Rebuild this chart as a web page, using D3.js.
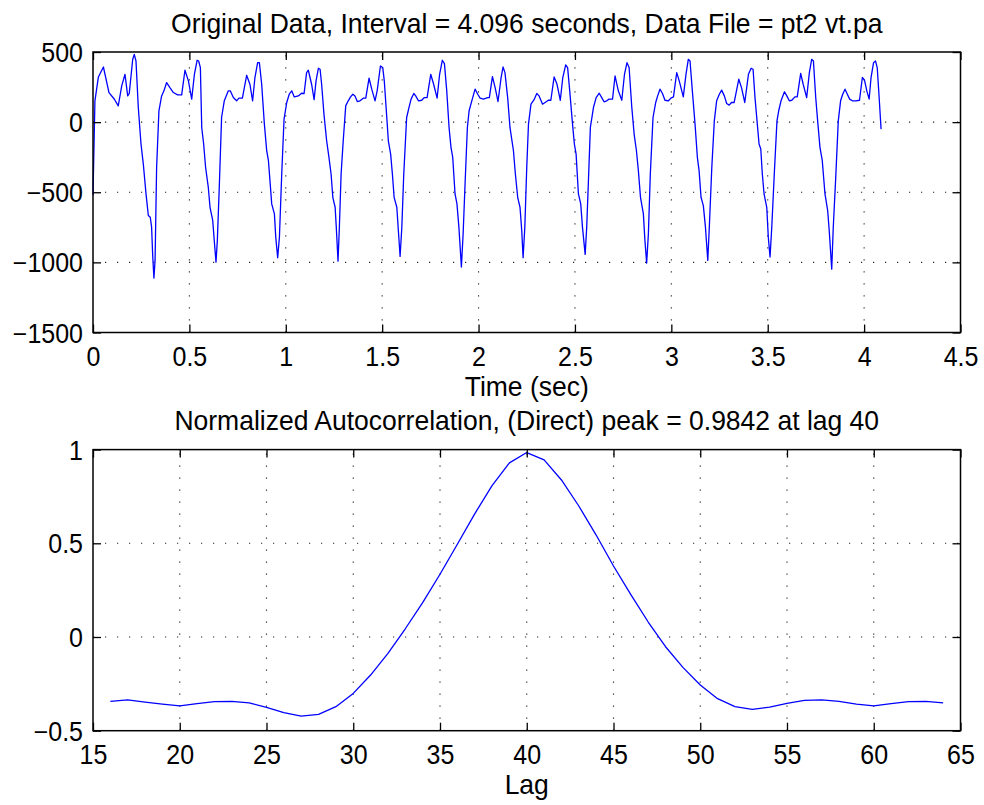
<!DOCTYPE html>
<html>
<head>
<meta charset="utf-8">
<script src="https://cdn.jsdelivr.net/npm/d3@7"></script>
<style>
  body { margin: 0; background: #fff; }
  svg text {
    font-family: "Liberation Sans", Arial, Helvetica, sans-serif; fill: #000;
    transform-box: fill-box; transform-origin: center; transform: scaleY(1.07);
  }
</style>
</head>
<body>
<svg id="chart" width="984" height="805"></svg>
<script>
// ---- data ----
// top panel: [time (s), amplitude]
const ecgPoints = [
  [0.000,-520],[0.010,152],[0.028,322],[0.054,393],[0.083,211],[0.111,163],[0.131,116],[0.149,258],
  [0.166,341],[0.180,187],[0.188,204],[0.206,448],[0.214,483],[0.223,436],[0.235,104],[0.249,-156],
  [0.261,-299],[0.275,-512],[0.287,-666],[0.297,-678],[0.304,-749],[0.310,-962],[0.316,-1112],[0.322,-986],
  [0.330,-322],[0.342,81],[0.356,187],[0.368,223],[0.382,282],[0.399,246],[0.417,211],[0.439,194],
  [0.460,194],[0.477,370],[0.495,294],[0.512,164],[0.526,341],[0.540,441],[0.548,436],[0.557,389],
  [0.564,-38],[0.574,-156],[0.584,-322],[0.598,-464],[0.607,-607],[0.621,-701],[0.629,-843],[0.638,-998],
  [0.645,-843],[0.655,-464],[0.667,33],[0.681,152],[0.702,223],[0.712,223],[0.728,175],[0.745,152],
  [0.757,171],[0.775,171],[0.797,334],[0.814,270],[0.828,152],[0.840,318],[0.854,424],[0.863,424],
  [0.875,270],[0.889,-14],[0.901,-204],[0.910,-275],[0.918,-417],[0.927,-583],[0.941,-654],[0.948,-820],
  [0.958,-967],[0.967,-820],[0.979,-370],[0.991,21],[1.005,140],[1.018,199],[1.031,223],[1.044,180],
  [1.065,187],[1.082,206],[1.095,204],[1.108,353],[1.117,370],[1.134,270],[1.147,160],[1.157,294],
  [1.169,384],[1.178,377],[1.186,270],[1.198,57],[1.212,-133],[1.224,-251],[1.235,-370],[1.244,-536],
  [1.256,-607],[1.262,-749],[1.271,-991],[1.278,-749],[1.287,-370],[1.298,-133],[1.311,116],[1.324,152],
  [1.336,180],[1.348,199],[1.359,187],[1.371,147],[1.385,152],[1.402,171],[1.415,171],[1.432,313],
  [1.446,235],[1.463,152],[1.474,223],[1.491,400],[1.503,389],[1.511,294],[1.524,33],[1.532,-133],
  [1.544,-228],[1.553,-370],[1.562,-536],[1.576,-607],[1.584,-773],[1.593,-957],[1.602,-749],[1.612,-370],
  [1.627,33],[1.639,104],[1.650,164],[1.664,204],[1.674,187],[1.688,152],[1.705,156],[1.719,175],
  [1.733,175],[1.752,341],[1.767,270],[1.785,171],[1.798,341],[1.812,441],[1.823,417],[1.835,223],
  [1.847,-38],[1.857,-180],[1.866,-251],[1.878,-512],[1.888,-583],[1.898,-749],[1.911,-1033],[1.920,-796],
  [1.930,-441],[1.942,-38],[1.951,81],[1.965,152],[1.982,235],[1.996,199],[2.008,171],[2.025,164],
  [2.048,175],[2.056,175],[2.072,325],[2.086,246],[2.101,147],[2.117,318],[2.127,393],[2.137,353],
  [2.151,175],[2.163,-38],[2.181,-204],[2.191,-370],[2.203,-536],[2.215,-607],[2.224,-773],[2.231,-967],
  [2.240,-749],[2.250,-322],[2.259,-14],[2.272,128],[2.288,160],[2.302,204],[2.314,187],[2.332,128],
  [2.345,140],[2.362,156],[2.375,156],[2.392,322],[2.407,270],[2.424,156],[2.437,318],[2.452,408],
  [2.462,389],[2.473,223],[2.486,9],[2.497,-156],[2.506,-228],[2.518,-512],[2.530,-583],[2.539,-749],
  [2.553,-943],[2.561,-749],[2.570,-417],[2.580,-38],[2.596,104],[2.610,175],[2.626,206],[2.639,175],
  [2.651,145],[2.665,152],[2.677,164],[2.695,164],[2.708,329],[2.725,223],[2.743,156],[2.757,341],
  [2.770,424],[2.781,389],[2.795,104],[2.807,-85],[2.819,-204],[2.829,-346],[2.840,-536],[2.855,-654],
  [2.863,-843],[2.872,-1005],[2.881,-796],[2.891,-370],[2.905,33],[2.919,140],[2.929,187],[2.941,235],
  [2.954,204],[2.967,156],[2.985,152],[2.998,171],[3.011,180],[3.028,353],[3.041,294],[3.062,180],
  [3.076,341],[3.088,448],[3.097,436],[3.109,223],[3.123,-14],[3.135,-251],[3.144,-346],[3.154,-536],
  [3.166,-595],[3.177,-749],[3.189,-986],[3.197,-749],[3.210,-322],[3.223,9],[3.235,152],[3.249,199],
  [3.261,228],[3.275,187],[3.287,133],[3.300,121],[3.312,140],[3.326,140],[3.350,306],[3.364,246],
  [3.381,140],[3.400,341],[3.414,384],[3.424,377],[3.434,175],[3.446,-14],[3.455,-156],[3.464,-192],
  [3.472,-370],[3.481,-512],[3.495,-607],[3.503,-820],[3.512,-962],[3.521,-749],[3.534,-370],[3.548,9],
  [3.557,81],[3.569,152],[3.587,216],[3.599,187],[3.612,152],[3.625,156],[3.641,180],[3.653,180],
  [3.671,348],[3.684,270],[3.702,175],[3.716,353],[3.728,448],[3.737,436],[3.749,175],[3.759,9],
  [3.771,-180],[3.783,-275],[3.797,-512],[3.811,-630],[3.819,-773],[3.832,-1048],[3.840,-749],[3.852,-417],
  [3.866,9],[3.878,152],[3.889,199],[3.901,235],[3.913,199],[3.925,164],[3.939,152],[3.957,152],
  [3.976,156],[3.991,318],[4.002,299],[4.014,223],[4.026,164],[4.036,318],[4.049,424],[4.059,436],
  [4.068,389],[4.078,175],[4.088,-50]
];

// bottom panel: autocorrelation per lag
const lags = [16,17,18,19,20,21,22,23,24,25,26,27,28,29,30,31,32,33,34,35,36,37,38,39,40,
              41,42,43,44,45,46,47,48,49,50,51,52,53,54,55,56,57,58,59,60,61,62,63,64];
const acf = [-0.343,-0.336,-0.347,-0.358,-0.367,-0.356,-0.345,-0.343,-0.352,-0.375,-0.404,-0.422,-0.413,
             -0.372,-0.301,-0.203,-0.087,0.044,0.183,0.335,0.495,0.657,0.808,0.929,0.9842,
             0.945,0.838,0.699,0.544,0.379,0.226,0.080,-0.052,-0.162,-0.256,-0.329,-0.372,-0.386,
             -0.374,-0.354,-0.338,-0.335,-0.343,-0.358,-0.367,-0.356,-0.345,-0.343,-0.352];

const timeTicks = [0, 0.5, 1, 1.5, 2, 2.5, 3, 3.5, 4, 4.5];
const ampTicks = [-1500, -1000, -500, 0, 500];
const lagTicks = [15, 20, 25, 30, 35, 40, 45, 50, 55, 60, 65];
const acfTicks = [-0.5, 0, 0.5, 1];

const topTitle = "Original Data, Interval = 4.096 seconds, Data File = pt2 vt.pa";
const bottomTitle = "Normalized Autocorrelation, (Direct) peak = 0.9842 at lag 40";

// ---- drawing ----
const svg = d3.select("#chart");
const tickFont = 25;
const labelFont = 26.5;   // titles / axis labels are a bit larger
const fmt = d => String(d).replace("-", "\u2212");

function drawPanel(p) {
  const x = d3.scaleLinear().domain(p.xDomain).range([p.left, p.right]);
  const y = d3.scaleLinear().domain(p.yDomain).range([p.bottom, p.top]);
  const g = svg.append("g");
  const w = p.right - p.left, h = p.bottom - p.top;

  // dotted grid
  g.append("g").selectAll("line")
    .data(p.xTicks.slice(1, -1))
    .join("line")
    .attr("x1", d => x(d)).attr("x2", d => x(d))
    .attr("y1", p.bottom).attr("y2", p.top)
    .attr("stroke", "#222").attr("stroke-width", 1.1)
    .attr("stroke-dasharray", "1.2 10.8");
  g.append("g").selectAll("line")
    .data(p.yTicks.slice(1, -1))
    .join("line")
    .attr("x1", p.left).attr("x2", p.right)
    .attr("y1", d => y(d)).attr("y2", d => y(d))
    .attr("stroke", "#222").attr("stroke-width", 1.1)
    .attr("stroke-dasharray", "1.2 10.8");

  // data line
  g.append("path")
    .datum(p.data)
    .attr("fill", "none")
    .attr("stroke", "#0000ff")
    .attr("stroke-width", 1.3)
    .attr("stroke-linejoin", "round")
    .attr("d", d3.line().x(d => x(d[0])).y(d => y(d[1])));

  // axes, ticks pointing inward on all four sides
  g.append("g").attr("transform", `translate(0,${p.bottom})`)
    .call(d3.axisBottom(x).tickValues(p.xTicks).tickFormat(fmt).tickSize(-8).tickSizeOuter(0).tickPadding(15));
  const leftAx = g.append("g").attr("transform", `translate(${p.left},0)`)
    .call(d3.axisLeft(y).tickValues(p.yTicks).tickFormat(fmt).tickSize(-8).tickSizeOuter(0).tickPadding(10));
  g.append("g").attr("transform", `translate(0,${p.top})`)
    .call(d3.axisTop(x).tickValues(p.xTicks).tickFormat("").tickSize(-8).tickSizeOuter(0));
  g.append("g").attr("transform", `translate(${p.right},0)`)
    .call(d3.axisRight(y).tickValues(p.yTicks).tickFormat("").tickSize(-8).tickSizeOuter(0));

  g.selectAll(".domain").remove();
  g.selectAll(".tick line").attr("stroke", "#000").attr("stroke-width", 1.3);
  g.selectAll(".tick text").attr("font-size", tickFont).attr("font-family", null).attr("fill", "#000");
  leftAx.selectAll(".tick text").attr("dy", "0.36em");

  g.append("rect")
    .attr("x", p.left).attr("y", p.top)
    .attr("width", w).attr("height", h)
    .attr("fill", "none").attr("stroke", "#000").attr("stroke-width", 1.5);

  g.append("text")
    .attr("x", (p.left + p.right) / 2).attr("y", p.top - 20)
    .attr("text-anchor", "middle").attr("font-size", labelFont)
    .text(p.title);

  g.append("text")
    .attr("x", (p.left + p.right) / 2).attr("y", p.bottom + 63)
    .attr("text-anchor", "middle").attr("font-size", labelFont)
    .text(p.xLabel);
}

drawPanel({
  left: 93, right: 960.5, top: 52, bottom: 332.5,
  xDomain: [0, 4.5], yDomain: [-1500, 500],
  xTicks: timeTicks, yTicks: ampTicks,
  data: ecgPoints,
  title: topTitle, xLabel: "Time (sec)"
});

drawPanel({
  left: 93, right: 960.5, top: 449.6, bottom: 730.7,
  xDomain: [15, 65], yDomain: [-0.5, 1],
  xTicks: lagTicks, yTicks: acfTicks,
  data: lags.map((l, i) => [l, acf[i]]),
  title: bottomTitle, xLabel: "Lag"
});
</script>
</body>
</html>
